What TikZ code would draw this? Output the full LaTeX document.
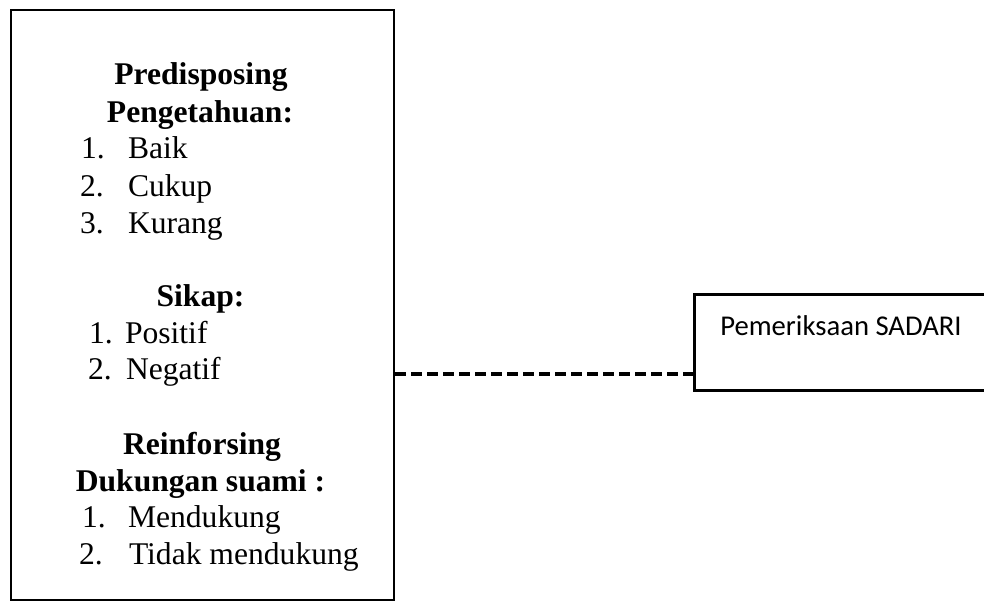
\documentclass[tikz,border=0pt]{standalone}
\usepackage{fontspec}
\setmainfont{Liberation Serif}
\newfontfamily\calfont{Carlito}
\begin{document}
\begin{tikzpicture}[x=0.75pt,y=-0.75pt,
  boxstyle/.style={draw=black,line width=1.9pt,fill=none,inner sep=0pt},
  txt/.style={inner sep=0pt,outer sep=0pt,font=\fontsize{23.7}{27.75}\selectfont},
  head/.style={txt,anchor=base,font=\fontsize{23.7}{27.75}\selectfont\bfseries},
  item/.style={txt,anchor=base west},
  dashline/.style={line width=2.4pt,dash pattern=on 7.9pt off 4.1pt}]
\clip (0,0) rectangle (984,601);
% boxes
\node[boxstyle,anchor=north west,minimum width=287.25pt,minimum height=442.5pt] (leftbox) at (9.5,8.5) {};
\node[boxstyle,anchor=north west,minimum width=225pt,minimum height=72pt] (sadari) at (693,293) {};
\node[inner sep=0pt,anchor=base west,font=\calfont\fontsize{21.5}{26}\selectfont] (sadaritext) at (720,335) {Pemeriksaan SADARI};
% left box text
\node[head] (h1) at (201,84) {Predisposing};
\node[head] (h2) at (200,122) {Pengetahuan:};
\node[item] (n11) at (81,158) {1.};
\node[item] (t11) at (128,158) {Baik};
\node[item] (n12) at (80,196) {2.};
\node[item] (t12) at (128,196) {Cukup};
\node[item] (n13) at (80,233) {3.};
\node[item] (t13) at (128,233) {Kurang};
\node[head] (h3) at (200.5,306) {Sikap:};
\node[item] (n21) at (89,343) {1.};
\node[item] (t21) at (125,343) {Positif};
\node[item] (n22) at (88,379) {2.};
\node[item] (t22) at (126,379) {Negatif};
\node[head] (h4) at (202,454) {Reinforsing};
\node[head] (h5) at (200.5,491) {Dukungan suami :};
\node[item] (n31) at (82,527) {1.};
\node[item] (t31) at (128,527) {Mendukung};
\node[item] (n32) at (79,564) {2.};
\node[item] (t32) at (129,564) {Tidak mendukung};
% connector
\coordinate (dl) at (393,374);
\draw[dashline] (leftbox.east |- dl) -- (sadari.west |- dl);
\end{tikzpicture}
\end{document}
